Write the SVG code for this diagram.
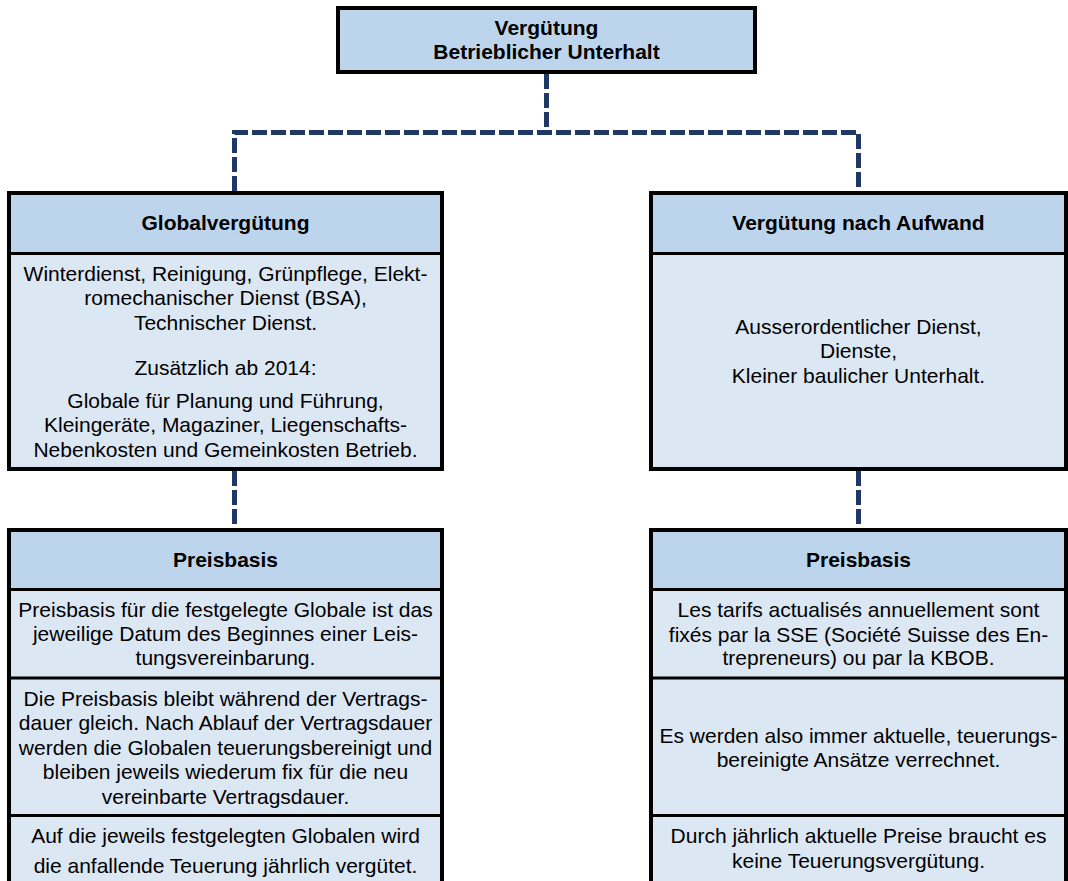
<svg xmlns="http://www.w3.org/2000/svg" width="1068" height="881" viewBox="0 0 1068 881">
<style>
.hd{fill:#BDD5EC}
.bd{fill:#DCE7F4}
.frame{fill:none;stroke:#000;stroke-width:4}
.div{stroke:#000;stroke-width:3}
.con{fill:none;stroke:#1F3864;stroke-width:5;stroke-dasharray:15 4}
text{font-family:"Liberation Sans",Arial,sans-serif;font-size:21px;fill:#000;text-anchor:middle}
.b{font-weight:bold}
</style>
<rect x="0" y="0" width="1068" height="881" fill="#fff"/>
<g id="connectors">
<path class="con" d="M546.5,74 V132.5"/>
<path class="con" d="M234.5,191 V132.5 H858.5 V191"/>
<path class="con" d="M234.5,471 V528"/>
<path class="con" d="M858.5,471 V528"/>
</g>
<g id="root">
<rect x="338" y="8" width="417" height="64" class="hd"/>
<rect x="338" y="8" width="417" height="64" class="frame"/>
<text x="546.5" y="35" class="b">Vergütung</text>
<text x="546.5" y="58.5" class="b">Betrieblicher Unterhalt</text>
</g>
<g id="global">
<rect x="9" y="193" width="433" height="60.5" class="hd"/>
<rect x="9" y="253.5" width="433" height="215.5" class="bd"/>
<line x1="9" y1="253.5" x2="442" y2="253.5" class="div"/>
<rect x="9" y="193" width="433" height="276" class="frame"/>
<text x="225.5" y="230" class="b">Globalvergütung</text>
<text x="225.5" y="280.5">Winterdienst, Reinigung, Grünpflege, Elekt-</text>
<text x="225.5" y="305">romechanischer Dienst (BSA),</text>
<text x="225.5" y="329.5">Technischer Dienst.</text>
<text x="225.5" y="375">Zusätzlich ab 2014:</text>
<text x="225.5" y="407.5">Globale für Planung und Führung,</text>
<text x="225.5" y="432">Kleingeräte, Magaziner, Liegenschafts-</text>
<text x="225.5" y="456.5">Nebenkosten und Gemeinkosten Betrieb.</text>
</g>
<g id="aufwand">
<rect x="651" y="193" width="415" height="60.5" class="hd"/>
<rect x="651" y="253.5" width="415" height="215.5" class="bd"/>
<line x1="651" y1="253.5" x2="1066" y2="253.5" class="div"/>
<rect x="651" y="193" width="415" height="276" class="frame"/>
<text x="858.5" y="230" class="b">Vergütung nach Aufwand</text>
<text x="858.5" y="333.5">Ausserordentlicher Dienst,</text>
<text x="858.5" y="358">Dienste,</text>
<text x="858.5" y="382.5">Kleiner baulicher Unterhalt.</text>
</g>
<g id="preis-left">
<rect x="9" y="530" width="433" height="59.5" class="hd"/>
<rect x="9" y="589.5" width="433" height="320" class="bd"/>
<line x1="9" y1="589.5" x2="442" y2="589.5" class="div"/>
<line x1="9" y1="678" x2="442" y2="678" class="div"/>
<line x1="9" y1="815.5" x2="442" y2="815.5" class="div"/>
<rect x="9" y="530" width="433" height="380" class="frame"/>
<text x="225.5" y="566.5" class="b">Preisbasis</text>
<text x="225.5" y="616.5">Preisbasis für die festgelegte Globale ist das</text>
<text x="225.5" y="641">jeweilige Datum des Beginnes einer Leis-</text>
<text x="225.5" y="665">tungsvereinbarung.</text>
<text x="225.5" y="706">Die Preisbasis bleibt während der Vertrags-</text>
<text x="225.5" y="730">dauer gleich. Nach Ablauf der Vertragsdauer</text>
<text x="225.5" y="754.5">werden die Globalen teuerungsbereinigt und</text>
<text x="225.5" y="779">bleiben jeweils wiederum fix für die neu</text>
<text x="225.5" y="803.5">vereinbarte Vertragsdauer.</text>
<text x="225.5" y="842.5">Auf die jeweils festgelegten Globalen wird</text>
<text x="225.5" y="872.5">die anfallende Teuerung jährlich vergütet.</text>
</g>
<g id="preis-right">
<rect x="651" y="530" width="415" height="59.5" class="hd"/>
<rect x="651" y="589.5" width="415" height="320" class="bd"/>
<line x1="651" y1="589.5" x2="1066" y2="589.5" class="div"/>
<line x1="651" y1="678" x2="1066" y2="678" class="div"/>
<line x1="651" y1="815.5" x2="1066" y2="815.5" class="div"/>
<rect x="651" y="530" width="415" height="380" class="frame"/>
<text x="858.5" y="566.5" class="b">Preisbasis</text>
<text x="858.5" y="616.5">Les tarifs actualisés annuellement sont</text>
<text x="858.5" y="641.5">fixés par la SSE (Société Suisse des En-</text>
<text x="858.5" y="665">trepreneurs) ou par la KBOB.</text>
<text x="858.5" y="742.5">Es werden also immer aktuelle, teuerungs-</text>
<text x="858.5" y="767">bereinigte Ansätze verrechnet.</text>
<text x="858.5" y="842.5">Durch jährlich aktuelle Preise braucht es</text>
<text x="858.5" y="867.5">keine Teuerungsvergütung.</text>
</g>
</svg>
